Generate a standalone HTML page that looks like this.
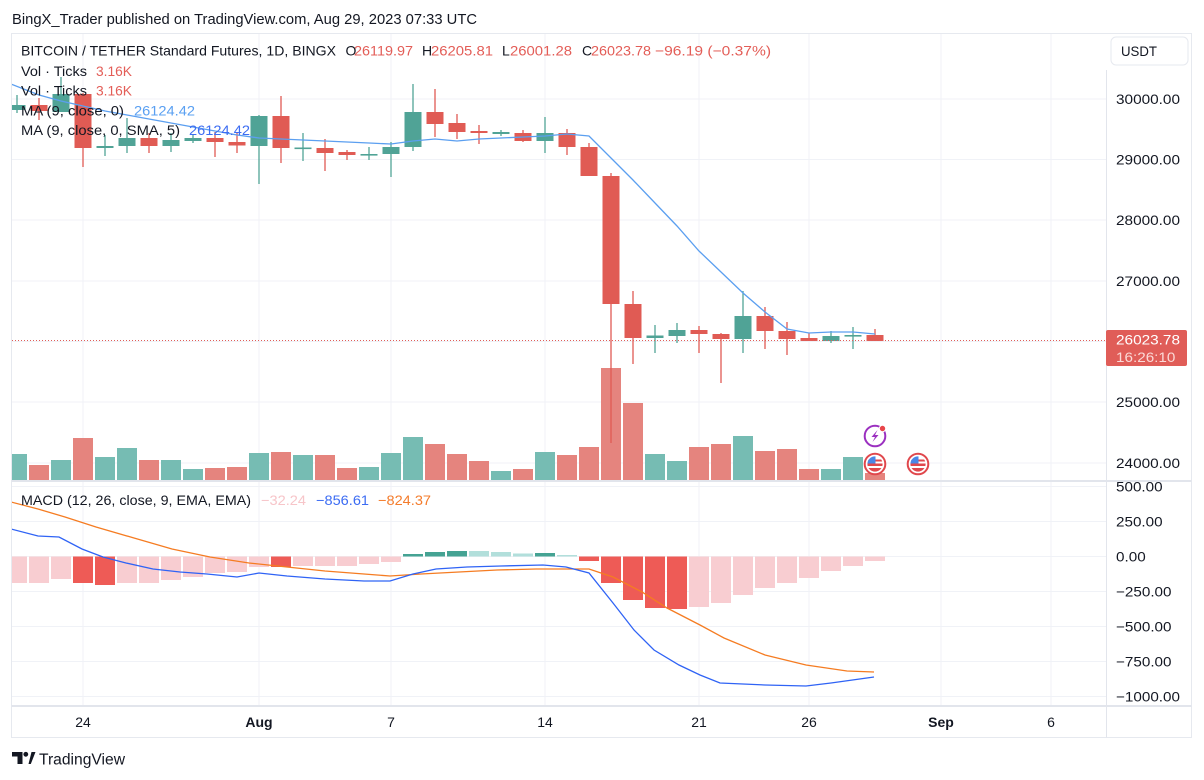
<!DOCTYPE html>
<html><head><meta charset="utf-8"><style>
html,body{margin:0;padding:0;background:#fff;}
svg{display:block;font-family:"Liberation Sans",sans-serif;}
</style></head><body>
<svg width="1204" height="780" viewBox="0 0 1204 780" xmlns="http://www.w3.org/2000/svg">
<defs>
<clipPath id="cp"><rect x="12" y="34" width="1094" height="446"/></clipPath>
<clipPath id="cm"><rect x="12" y="482" width="1094" height="223"/></clipPath>
<clipPath id="fc"><circle cx="0" cy="0" r="7.6"/></clipPath>
</defs>
<rect width="1204" height="780" fill="#fff"/>

<!-- title -->
<text x="12" y="24" font-size="14.6" fill="#131722" textLength="465" lengthAdjust="spacingAndGlyphs">BingX_Trader published on TradingView.com, Aug 29, 2023 07:33 UTC</text>

<!-- grid -->
<g stroke="#f0f2f7" stroke-width="1">
<line x1="83" y1="34" x2="83" y2="705"/>
<line x1="259" y1="34" x2="259" y2="705"/>
<line x1="391" y1="34" x2="391" y2="705"/>
<line x1="545" y1="34" x2="545" y2="705"/>
<line x1="699" y1="34" x2="699" y2="705"/>
<line x1="809" y1="34" x2="809" y2="705"/>
<line x1="941" y1="34" x2="941" y2="705"/>
<line x1="1051" y1="34" x2="1051" y2="705"/>
<line x1="12" y1="99" x2="1106" y2="99"/>
<line x1="12" y1="159.5" x2="1106" y2="159.5"/>
<line x1="12" y1="220" x2="1106" y2="220"/>
<line x1="12" y1="281" x2="1106" y2="281"/>
<line x1="12" y1="341.5" x2="1106" y2="341.5"/>
<line x1="12" y1="402" x2="1106" y2="402"/>
<line x1="12" y1="463" x2="1106" y2="463"/>
<line x1="12" y1="486.5" x2="1106" y2="486.5"/>
<line x1="12" y1="521.5" x2="1106" y2="521.5"/>
<line x1="12" y1="556.5" x2="1106" y2="556.5"/>
<line x1="12" y1="591.5" x2="1106" y2="591.5"/>
<line x1="12" y1="626.5" x2="1106" y2="626.5"/>
<line x1="12" y1="661.5" x2="1106" y2="661.5"/>
<line x1="12" y1="696.5" x2="1106" y2="696.5"/>
</g>

<g clip-path="url(#cp)">
<!-- volume -->
<g>
<rect x="7" y="454" width="20" height="26" fill="#76bcb3"/>
<rect x="29" y="465" width="20" height="15" fill="#e5847e"/>
<rect x="51" y="460" width="20" height="20" fill="#76bcb3"/>
<rect x="73" y="438" width="20" height="42" fill="#e5847e"/>
<rect x="95" y="457" width="20" height="23" fill="#76bcb3"/>
<rect x="117" y="448" width="20" height="32" fill="#76bcb3"/>
<rect x="139" y="460" width="20" height="20" fill="#e5847e"/>
<rect x="161" y="460" width="20" height="20" fill="#76bcb3"/>
<rect x="183" y="469" width="20" height="11" fill="#76bcb3"/>
<rect x="205" y="468" width="20" height="12" fill="#e5847e"/>
<rect x="227" y="467" width="20" height="13" fill="#e5847e"/>
<rect x="249" y="453" width="20" height="27" fill="#76bcb3"/>
<rect x="271" y="452" width="20" height="28" fill="#e5847e"/>
<rect x="293" y="455" width="20" height="25" fill="#76bcb3"/>
<rect x="315" y="455" width="20" height="25" fill="#e5847e"/>
<rect x="337" y="468" width="20" height="12" fill="#e5847e"/>
<rect x="359" y="467" width="20" height="13" fill="#76bcb3"/>
<rect x="381" y="453" width="20" height="27" fill="#76bcb3"/>
<rect x="403" y="437" width="20" height="43" fill="#76bcb3"/>
<rect x="425" y="444" width="20" height="36" fill="#e5847e"/>
<rect x="447" y="454" width="20" height="26" fill="#e5847e"/>
<rect x="469" y="461" width="20" height="19" fill="#e5847e"/>
<rect x="491" y="471" width="20" height="9" fill="#76bcb3"/>
<rect x="513" y="469" width="20" height="11" fill="#e5847e"/>
<rect x="535" y="452" width="20" height="28" fill="#76bcb3"/>
<rect x="557" y="455" width="20" height="25" fill="#e5847e"/>
<rect x="579" y="447" width="20" height="33" fill="#e5847e"/>
<rect x="601" y="368" width="20" height="112" fill="#e5847e"/>
<rect x="623" y="403" width="20" height="77" fill="#e5847e"/>
<rect x="645" y="454" width="20" height="26" fill="#76bcb3"/>
<rect x="667" y="461" width="20" height="19" fill="#76bcb3"/>
<rect x="689" y="447" width="20" height="33" fill="#e5847e"/>
<rect x="711" y="444" width="20" height="36" fill="#e5847e"/>
<rect x="733" y="436" width="20" height="44" fill="#76bcb3"/>
<rect x="755" y="451" width="20" height="29" fill="#e5847e"/>
<rect x="777" y="449" width="20" height="31" fill="#e5847e"/>
<rect x="799" y="469" width="20" height="11" fill="#e5847e"/>
<rect x="821" y="469" width="20" height="11" fill="#76bcb3"/>
<rect x="843" y="457" width="20" height="23" fill="#76bcb3"/>
<rect x="865" y="473" width="20" height="7" fill="#e5847e"/>
</g>

<!-- candles -->
<g stroke-width="1.3">
<g stroke="#50a396" fill="#50a396">
<line x1="17" y1="95" x2="17" y2="113"/><rect x="8.5" y="105" width="17" height="5" stroke="none"/>
<line x1="61" y1="77" x2="61" y2="112"/><rect x="52.5" y="94" width="17" height="18" stroke="none"/>
<line x1="105" y1="135" x2="105" y2="156"/><rect x="96.5" y="146" width="17" height="2" stroke="none"/>
<line x1="127" y1="118" x2="127" y2="153"/><rect x="118.5" y="138" width="17" height="8" stroke="none"/>
<line x1="171" y1="133" x2="171" y2="152"/><rect x="162.5" y="140" width="17" height="6" stroke="none"/>
<line x1="193" y1="135" x2="193" y2="143"/><rect x="184.5" y="138" width="17" height="3" stroke="none"/>
<line x1="259" y1="115" x2="259" y2="184"/><rect x="250.5" y="116" width="17" height="30" stroke="none"/>
<line x1="303" y1="133" x2="303" y2="161"/><rect x="294.5" y="147.5" width="17" height="1.6" stroke="none"/>
<line x1="369" y1="147" x2="369" y2="160"/><rect x="360.5" y="154" width="17" height="1.6" stroke="none"/>
<line x1="391" y1="142" x2="391" y2="177"/><rect x="382.5" y="147" width="17" height="7" stroke="none"/>
<line x1="413" y1="84" x2="413" y2="151"/><rect x="404.5" y="112" width="17" height="35" stroke="none"/>
<line x1="501" y1="130" x2="501" y2="136"/><rect x="492.5" y="132" width="17" height="2" stroke="none"/>
<line x1="545" y1="117" x2="545" y2="153"/><rect x="536.5" y="133" width="17" height="8" stroke="none"/>
<line x1="655" y1="325" x2="655" y2="353"/><rect x="646.5" y="335.5" width="17" height="2.5" stroke="none"/>
<line x1="677" y1="323" x2="677" y2="343"/><rect x="668.5" y="330" width="17" height="6" stroke="none"/>
<line x1="743" y1="291" x2="743" y2="353"/><rect x="734.5" y="316" width="17" height="23" stroke="none"/>
<line x1="831" y1="331" x2="831" y2="343"/><rect x="822.5" y="336" width="17" height="5" stroke="none"/>
<line x1="853" y1="327" x2="853" y2="349"/><rect x="844.5" y="335" width="17" height="1.6" stroke="none"/>
</g>
<g stroke="#e05b54" fill="#e05b54">
<line x1="39" y1="98" x2="39" y2="120"/><rect x="30.5" y="105" width="17" height="6" stroke="none"/>
<line x1="83" y1="93" x2="83" y2="167"/><rect x="74.5" y="94" width="17" height="54" stroke="none"/>
<line x1="149" y1="133" x2="149" y2="153"/><rect x="140.5" y="138" width="17" height="8" stroke="none"/>
<line x1="215" y1="132" x2="215" y2="157"/><rect x="206.5" y="138" width="17" height="4" stroke="none"/>
<line x1="237" y1="133" x2="237" y2="153"/><rect x="228.5" y="142" width="17" height="3.5" stroke="none"/>
<line x1="281" y1="96" x2="281" y2="163"/><rect x="272.5" y="116" width="17" height="32" stroke="none"/>
<line x1="325" y1="139" x2="325" y2="171"/><rect x="316.5" y="148" width="17" height="5" stroke="none"/>
<line x1="347" y1="150" x2="347" y2="160"/><rect x="338.5" y="152" width="17" height="3" stroke="none"/>
<line x1="435" y1="89" x2="435" y2="137"/><rect x="426.5" y="112" width="17" height="12" stroke="none"/>
<line x1="457" y1="114" x2="457" y2="139"/><rect x="448.5" y="123" width="17" height="9" stroke="none"/>
<line x1="479" y1="125" x2="479" y2="144"/><rect x="470.5" y="131" width="17" height="2" stroke="none"/>
<line x1="523" y1="130" x2="523" y2="142"/><rect x="514.5" y="133" width="17" height="8" stroke="none"/>
<line x1="567" y1="129" x2="567" y2="155"/><rect x="558.5" y="133" width="17" height="14" stroke="none"/>
<line x1="589" y1="143" x2="589" y2="176"/><rect x="580.5" y="147" width="17" height="29" stroke="none"/>
<line x1="611" y1="173" x2="611" y2="443"/><rect x="602.5" y="176" width="17" height="128" stroke="none"/>
<line x1="633" y1="291" x2="633" y2="364"/><rect x="624.5" y="304" width="17" height="34" stroke="none"/>
<line x1="699" y1="326" x2="699" y2="353"/><rect x="690.5" y="330" width="17" height="4" stroke="none"/>
<line x1="721" y1="333" x2="721" y2="383"/><rect x="712.5" y="334" width="17" height="5" stroke="none"/>
<line x1="765" y1="307" x2="765" y2="349"/><rect x="756.5" y="316" width="17" height="15" stroke="none"/>
<line x1="787" y1="322" x2="787" y2="355"/><rect x="778.5" y="331" width="17" height="8" stroke="none"/>
<line x1="809" y1="333" x2="809" y2="341"/><rect x="800.5" y="338" width="17" height="3" stroke="none"/>
<line x1="875" y1="329" x2="875" y2="341"/><rect x="866.5" y="335" width="17" height="6" stroke="none"/>
</g>
</g>

<!-- MA line -->
<polyline fill="none" stroke="#5b9ff0" stroke-width="1.3" points="11,84 39,95 61,101 83,106 105,111 127,115 149,119 171,123 193,127 215,131 237,135 259,138 281,139 303,140 325,141 347,142 369,143 391,144 413,141 435,139 457,141 479,139 501,138 523,137 545,136 567,134 589,136 611,158 633,180 655,203 677,226 699,251 721,272 743,293 765,312 787,329 809,333 831,332 853,332 875,334"/>

<!-- current price dotted line -->
<line x1="12" y1="340.5" x2="1106" y2="340.5" stroke="#e05d58" stroke-width="1" stroke-dasharray="1 2"/>
</g>

<!-- MACD pane -->
<g clip-path="url(#cm)">
<g>
<rect x="7" y="556.5" width="20" height="26.5" fill="#f8cdd1"/>
<rect x="29" y="556.5" width="20" height="26.5" fill="#f8cdd1"/>
<rect x="51" y="556.5" width="20" height="22.5" fill="#f8cdd1"/>
<rect x="73" y="556.5" width="20" height="26.5" fill="#ee5b56"/>
<rect x="95" y="556.5" width="20" height="28.5" fill="#ee5b56"/>
<rect x="117" y="556.5" width="20" height="26.5" fill="#f8cdd1"/>
<rect x="139" y="556.5" width="20" height="26.5" fill="#f8cdd1"/>
<rect x="161" y="556.5" width="20" height="23.5" fill="#f8cdd1"/>
<rect x="183" y="556.5" width="20" height="20.5" fill="#f8cdd1"/>
<rect x="205" y="556.5" width="20" height="16.5" fill="#f8cdd1"/>
<rect x="227" y="556.5" width="20" height="15.5" fill="#f8cdd1"/>
<rect x="249" y="556.5" width="20" height="10.5" fill="#f8cdd1"/>
<rect x="271" y="556.5" width="20" height="10.5" fill="#ee5b56"/>
<rect x="293" y="556.5" width="20" height="9.5" fill="#f8cdd1"/>
<rect x="315" y="556.5" width="20" height="9.5" fill="#f8cdd1"/>
<rect x="337" y="556.5" width="20" height="9.5" fill="#f8cdd1"/>
<rect x="359" y="556.5" width="20" height="7.5" fill="#f8cdd1"/>
<rect x="381" y="556.5" width="20" height="5.5" fill="#f8cdd1"/>
<rect x="403" y="554" width="20" height="2.5" fill="#45a393"/>
<rect x="425" y="552" width="20" height="4.5" fill="#45a393"/>
<rect x="447" y="551" width="20" height="5.5" fill="#45a393"/>
<rect x="469" y="551" width="20" height="5.5" fill="#b2dfdb"/>
<rect x="491" y="552" width="20" height="4.5" fill="#b2dfdb"/>
<rect x="513" y="553.5" width="20" height="3" fill="#b2dfdb"/>
<rect x="535" y="553" width="20" height="3.5" fill="#45a393"/>
<rect x="557" y="555" width="20" height="1.5" fill="#b2dfdb"/>
<rect x="579" y="556.5" width="20" height="4.5" fill="#ee5b56"/>
<rect x="601" y="556.5" width="20" height="26.5" fill="#ee5b56"/>
<rect x="623" y="556.5" width="20" height="43.5" fill="#ee5b56"/>
<rect x="645" y="556.5" width="20" height="51.5" fill="#ee5b56"/>
<rect x="667" y="556.5" width="20" height="52.5" fill="#ee5b56"/>
<rect x="689" y="556.5" width="20" height="50.5" fill="#f8cdd1"/>
<rect x="711" y="556.5" width="20" height="46.5" fill="#f8cdd1"/>
<rect x="733" y="556.5" width="20" height="38.5" fill="#f8cdd1"/>
<rect x="755" y="556.5" width="20" height="31.5" fill="#f8cdd1"/>
<rect x="777" y="556.5" width="20" height="26.5" fill="#f8cdd1"/>
<rect x="799" y="556.5" width="20" height="21.5" fill="#f8cdd1"/>
<rect x="821" y="556.5" width="20" height="14.5" fill="#f8cdd1"/>
<rect x="843" y="556.5" width="20" height="9.5" fill="#f8cdd1"/>
<rect x="865" y="556.5" width="20" height="4.5" fill="#f8cdd1"/>
</g>
<polyline fill="none" stroke="#f57c22" stroke-width="1.3" points="11,502 38,509 65,517 96,527 134,538 172,549 210,557 249,563 287,567 325,571 364,574 390,576 421,574 459,572 497,570 536,569 574,569 589,569 613,577 642,592 667,608 700,625 724,638 765,655 806,665 847,671 874,672"/>
<polyline fill="none" stroke="#2f63f5" stroke-width="1.3" points="11,529 38,536 59,537 82,549 103,557 126,563 153,569 180,572 207,574 237,577 259,573 287,576 325,579 364,581 390,581 413,574 436,569 467,567 501,566 543,565 566,567 589,573 613,603 634,630 654,650 679,665 700,675 720,683 765,685 806,686 831,683 874,677"/>
</g>

<!-- frame & separators -->
<rect x="11.5" y="33.5" width="1180" height="704" fill="none" stroke="#e6e9ef" stroke-width="1"/>
<line x1="11.5" y1="481" x2="1191.5" y2="481" stroke="#e2e5ec" stroke-width="2"/>
<line x1="11.5" y1="706" x2="1191.5" y2="706" stroke="#e2e5ec" stroke-width="2"/>
<line x1="1106.5" y1="70" x2="1106.5" y2="737.5" stroke="#e2e5ec" stroke-width="1"/>

<!-- legend -->
<g font-size="14" fill="#131722">
<text x="21" y="55.5" textLength="315" lengthAdjust="spacingAndGlyphs">BITCOIN / TETHER Standard Futures, 1D, BINGX</text>
<text x="345.5" y="55.5">O</text><text x="354" y="55.5" fill="#e35d57" textLength="59" lengthAdjust="spacingAndGlyphs">26119.97</text>
<text x="422" y="55.5">H</text><text x="431" y="55.5" fill="#e35d57" textLength="62" lengthAdjust="spacingAndGlyphs">26205.81</text>
<text x="502" y="55.5">L</text><text x="510" y="55.5" fill="#e35d57" textLength="62" lengthAdjust="spacingAndGlyphs">26001.28</text>
<text x="582" y="55.5">C</text><text x="591" y="55.5" fill="#e35d57" textLength="60" lengthAdjust="spacingAndGlyphs">26023.78</text>
<text x="655" y="55.5" fill="#e35d57" textLength="116" lengthAdjust="spacingAndGlyphs">−96.19 (−0.37%)</text>

<text x="21" y="76" textLength="66" lengthAdjust="spacingAndGlyphs">Vol · Ticks</text>
<text x="96" y="76" fill="#e35d57" textLength="36" lengthAdjust="spacingAndGlyphs">3.16K</text>
<text x="21" y="95.5" textLength="66" lengthAdjust="spacingAndGlyphs">Vol · Ticks</text>
<text x="96" y="95.5" fill="#e35d57" textLength="36" lengthAdjust="spacingAndGlyphs">3.16K</text>
<text x="21" y="115.5" textLength="103" lengthAdjust="spacingAndGlyphs">MA (9, close, 0)</text>
<text x="134" y="115.5" fill="#5aa0f2" textLength="61" lengthAdjust="spacingAndGlyphs">26124.42</text>
<text x="21" y="135" textLength="159" lengthAdjust="spacingAndGlyphs">MA (9, close, 0, SMA, 5)</text>
<text x="189" y="135" fill="#3d6df2" textLength="61" lengthAdjust="spacingAndGlyphs">26124.42</text>

<text x="21" y="505" textLength="230" lengthAdjust="spacingAndGlyphs">MACD (12, 26, close, 9, EMA, EMA)</text>
<text x="261" y="505" fill="#f7c5c9" textLength="45" lengthAdjust="spacingAndGlyphs">−32.24</text>
<text x="316" y="505" fill="#3c6cf3" textLength="53" lengthAdjust="spacingAndGlyphs">−856.61</text>
<text x="378" y="505" fill="#f47c2c" textLength="53" lengthAdjust="spacingAndGlyphs">−824.37</text>
</g>

<!-- event icons -->
<g transform="translate(875,436)">
<circle r="10.3" fill="#fff" stroke="#9b30c0" stroke-width="2"/>
<path d="M2.5,-6 L-3.5,1 L0,1 L-2.5,6 L3.5,-1 L0,-1 Z" fill="#9b30c0"/>
<circle cx="7.5" cy="-7.5" r="3.2" fill="#e8454a" stroke="#fff" stroke-width="1"/>
</g>
<g transform="translate(875,464)">
<circle r="10.3" fill="#fff" stroke="#e0474c" stroke-width="2"/>
<g clip-path="url(#fc)">
<rect x="-8" y="-8" width="16" height="16" fill="#fff"/>
<rect x="-8" y="-4.5" width="16" height="2" fill="#e0474c"/>
<rect x="-8" y="-0.5" width="16" height="2.5" fill="#e0474c"/>
<rect x="-8" y="4" width="16" height="4" fill="#e0474c"/>
<rect x="-8" y="-8" width="8.5" height="7.5" fill="#4a86e6"/>
</g>
</g>
<g transform="translate(918,464)">
<circle r="10.3" fill="#fff" stroke="#e0474c" stroke-width="2"/>
<g clip-path="url(#fc)">
<rect x="-8" y="-8" width="16" height="16" fill="#fff"/>
<rect x="-8" y="-4.5" width="16" height="2" fill="#e0474c"/>
<rect x="-8" y="-0.5" width="16" height="2.5" fill="#e0474c"/>
<rect x="-8" y="4" width="16" height="4" fill="#e0474c"/>
<rect x="-8" y="-8" width="8.5" height="7.5" fill="#4a86e6"/>
</g>
</g>

<!-- price axis -->
<rect x="1111" y="37" width="77" height="28" rx="5" fill="#fff" stroke="#e6e9ef"/>
<g font-size="14" fill="#131722">
<text x="1121" y="56" textLength="36" lengthAdjust="spacingAndGlyphs">USDT</text>
<text x="1116" y="104" textLength="64" lengthAdjust="spacingAndGlyphs">30000.00</text>
<text x="1116" y="164.5" textLength="64" lengthAdjust="spacingAndGlyphs">29000.00</text>
<text x="1116" y="225" textLength="64" lengthAdjust="spacingAndGlyphs">28000.00</text>
<text x="1116" y="286" textLength="64" lengthAdjust="spacingAndGlyphs">27000.00</text>
<text x="1116" y="407" textLength="64" lengthAdjust="spacingAndGlyphs">25000.00</text>
<text x="1116" y="468" textLength="64" lengthAdjust="spacingAndGlyphs">24000.00</text>

<text x="1116" y="491.5" textLength="46.6" lengthAdjust="spacingAndGlyphs">500.00</text>
<text x="1116" y="526.5" textLength="46.6" lengthAdjust="spacingAndGlyphs">250.00</text>
<text x="1116" y="561.5" textLength="29.7" lengthAdjust="spacingAndGlyphs">0.00</text>
<text x="1116" y="596.5" textLength="55.5" lengthAdjust="spacingAndGlyphs">−250.00</text>
<text x="1116" y="631.5" textLength="55.5" lengthAdjust="spacingAndGlyphs">−500.00</text>
<text x="1116" y="666.5" textLength="55.5" lengthAdjust="spacingAndGlyphs">−750.00</text>
<text x="1116" y="701.5" textLength="64" lengthAdjust="spacingAndGlyphs">−1000.00</text>
</g>
<rect x="1106" y="330" width="81" height="36" rx="2" fill="#e05d58"/>
<text x="1116" y="344.5" font-size="14" fill="#fff" textLength="64" lengthAdjust="spacingAndGlyphs">26023.78</text>
<text x="1116" y="362" font-size="14" fill="#fbd9d6" textLength="59.4" lengthAdjust="spacingAndGlyphs">16:26:10</text>

<!-- time axis -->
<g font-size="14" fill="#131722" text-anchor="middle">
<text x="83" y="727">24</text>
<text x="259" y="727" font-weight="bold">Aug</text>
<text x="391" y="727">7</text>
<text x="545" y="727">14</text>
<text x="699" y="727">21</text>
<text x="809" y="727">26</text>
<text x="941" y="727" font-weight="bold">Sep</text>
<text x="1051" y="727">6</text>
</g>

<!-- TradingView logo -->
<g fill="#131722">
<path d="M12,752 H22.5 V764 H17.5 V756.5 H12 Z"/>
<circle cx="25.8" cy="754.3" r="2.4"/>
<path d="M28.5,764 L31.5,752 H35.5 L30.8,764 Z"/>
</g>
<text x="39" y="764.5" font-size="15.5" fill="#131722" textLength="86" lengthAdjust="spacingAndGlyphs">TradingView</text>
</svg>
</body></html>
